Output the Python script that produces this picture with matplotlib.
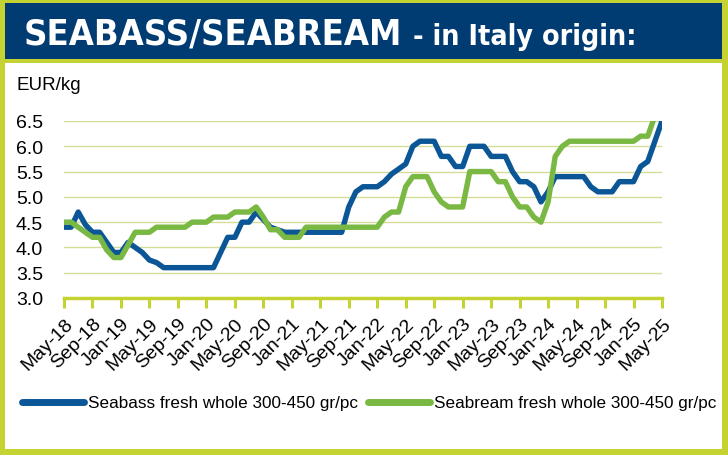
import matplotlib
matplotlib.use("Agg")
import matplotlib.pyplot as plt
from matplotlib.patches import Rectangle

# ---- data ----
months = ["May-18","Jun-18","Jul-18","Aug-18","Sep-18","Oct-18","Nov-18","Dec-18",
          "Jan-19","Feb-19","Mar-19","Apr-19","May-19","Jun-19","Jul-19","Aug-19",
          "Sep-19","Oct-19","Nov-19","Dec-19","Jan-20","Feb-20","Mar-20","Apr-20",
          "May-20","Jun-20","Jul-20","Aug-20","Sep-20","Oct-20","Nov-20","Dec-20",
          "Jan-21","Feb-21","Mar-21","Apr-21","May-21","Jun-21","Jul-21","Aug-21",
          "Sep-21","Oct-21","Nov-21","Dec-21","Jan-22","Feb-22","Mar-22","Apr-22",
          "May-22","Jun-22","Jul-22","Aug-22","Sep-22","Oct-22","Nov-22","Dec-22",
          "Jan-23","Feb-23","Mar-23","Apr-23","May-23","Jun-23","Jul-23","Aug-23",
          "Sep-23","Oct-23","Nov-23","Dec-23","Jan-24","Feb-24","Mar-24","Apr-24",
          "May-24","Jun-24","Jul-24","Aug-24","Sep-24","Oct-24","Nov-24","Dec-24",
          "Jan-25","Feb-25","Mar-25","Apr-25","May-25"]

seabass = [4.4, 4.4, 4.7, 4.45, 4.3, 4.3, 4.1, 3.9,
           3.9, 4.1, 4.0, 3.9, 3.75, 3.7, 3.6, 3.6,
           3.6, 3.6, 3.6, 3.6, 3.6, 3.6, 3.9, 4.2,
           4.2, 4.5, 4.5, 4.7, 4.55, 4.4, 4.35, 4.3,
           4.3, 4.3, 4.3, 4.3, 4.3, 4.3, 4.3, 4.3,
           4.8, 5.1, 5.2, 5.2, 5.2, 5.3, 5.45, 5.55,
           5.65, 6.0, 6.1, 6.1, 6.1, 5.8, 5.8, 5.6,
           5.6, 6.0, 6.0, 6.0, 5.8, 5.8, 5.8, 5.5,
           5.3, 5.3, 5.2, 4.9, 5.1, 5.4, 5.4, 5.4,
           5.4, 5.4, 5.2, 5.1, 5.1, 5.1, 5.3, 5.3,
           5.3, 5.6, 5.7, 6.1, 6.5]

seabream = [4.5, 4.5, 4.4, 4.3, 4.2, 4.2, 3.95, 3.8,
            3.8, 4.05, 4.3, 4.3, 4.3, 4.4, 4.4, 4.4,
            4.4, 4.4, 4.5, 4.5, 4.5, 4.6, 4.6, 4.6,
            4.7, 4.7, 4.7, 4.8, 4.6, 4.35, 4.35, 4.2,
            4.2, 4.2, 4.4, 4.4, 4.4, 4.4, 4.4, 4.4,
            4.4, 4.4, 4.4, 4.4, 4.4, 4.6, 4.7, 4.7,
            5.2, 5.4, 5.4, 5.4, 5.1, 4.9, 4.8, 4.8,
            4.8, 5.5, 5.5, 5.5, 5.5, 5.3, 5.3, 5.0,
            4.8, 4.8, 4.6, 4.5, 4.9, 5.8, 6.0, 6.1,
            6.1, 6.1, 6.1, 6.1, 6.1, 6.1, 6.1, 6.1,
            6.1, 6.2, 6.2, 6.6, 6.8]

yticks = [3.0, 3.5, 4.0, 4.5, 5.0, 5.5, 6.0, 6.5]
series_names = ["Seabass fresh whole 300-450 gr/pc", "Seabream fresh whole 300-450 gr/pc"]

# ---- style ----
W, H = 728, 456
LIME = "#c4d331"
GRID = "#d5dc98"
NAVY = "#003b72"
BLUE = "#0b5697"
GREEN = "#78b843"
plt.rcParams["font.family"] = ["Liberation Sans", "DejaVu Sans"]

fig = plt.figure(figsize=(W / 100, H / 100), dpi=100, facecolor=LIME)

def fx(px):
    return px / W

def fy(py):
    return 1 - py / H

# white panel and navy title bar
fig.patches.append(Rectangle((fx(5), fy(450)), fx(722) - fx(5), fy(64) - fy(450),
                             transform=fig.transFigure, facecolor="white", edgecolor="none", zorder=-10))
fig.patches.append(Rectangle((fx(5), fy(60)), fx(722) - fx(5), fy(4) - fy(60),
                             transform=fig.transFigure, facecolor=NAVY, edgecolor="none", zorder=-10))

fig.text(fx(24), fy(45), "SEABASS/SEABREAM", color="white", fontsize=26,
         fontweight="bold", family="DejaVu Sans", fontstretch="condensed", va="baseline", ha="left")
fig.text(fx(413), fy(45), "- in Italy origin:", color="white", fontsize=20.5,
         fontweight="bold", family="DejaVu Sans", fontstretch="condensed", va="baseline", ha="left")

fig.text(fx(17), fy(85), "EUR/kg", fontsize=13.5, color="black", va="center", ha="left")

# ---- axes ----
ax = fig.add_axes([fx(64), fy(299), fx(662) - fx(64), fy(122) - fy(299)])
ax.set_zorder(2)
ax.set_facecolor("none")
x = list(range(len(months)))
l1, = ax.plot(x, seabass, color=BLUE, lw=3.9, solid_joinstyle="round", zorder=3)
l2, = ax.plot(x, seabream, color=GREEN, lw=3.9, solid_joinstyle="round", zorder=4)

ax.set_xlim(0, len(months) - 1)
ax.set_ylim(3.0, 6.5)
ax.set_yticks(yticks)
ax.set_yticklabels([f"{v:.1f}" for v in yticks], fontsize=14)
ax.tick_params(axis="y", length=0, pad=15)
for v in yticks[1:]:
    ax.axhline(v, color=GRID, lw=1.0, zorder=1)

tick_pos = x[::4]
ax.set_xticks(tick_pos)
ax.set_xticklabels([months[i] for i in tick_pos], rotation=45, ha="right", va="top",
                   rotation_mode="anchor", fontsize=14)
ax.tick_params(axis="x", direction="out", length=7, width=2.2, color=LIME, pad=5)

for s in ["left", "right", "top"]:
    ax.spines[s].set_visible(False)
ax.spines["bottom"].set_color(LIME)
ax.spines["bottom"].set_linewidth(2.5)
ax.spines["bottom"].set_zorder(5)

leg = fig.legend([l1, l2], series_names, loc="center left",
                 bbox_to_anchor=(fx(22), fy(404)), ncol=2, frameon=False,
                 fontsize=12.3, handlelength=3.6, handletextpad=0.25,
                 columnspacing=0.6, borderpad=0, borderaxespad=0)
for h in leg.legend_handles:
    h.set_linewidth(5)
    h.set_solid_capstyle("round")

fig.savefig("out.png", dpi=100, facecolor=LIME)
